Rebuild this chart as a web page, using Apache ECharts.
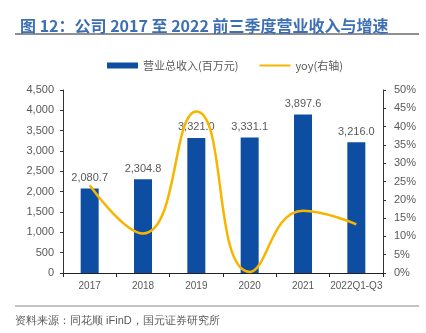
<!DOCTYPE html>
<html><head><meta charset="utf-8">
<script src="https://cdn.jsdelivr.net/npm/echarts@6/dist/echarts.min.js"></script>
<style>html,body{margin:0;padding:0;background:#fff}#c{width:426px;height:333px}</style>
</head><body><div id="c"></div>
<script>
var categories = ['2017', '2018', '2019', '2020', '2021', '2022Q1-Q3'];
var revenue = [2080.7, 2304.8, 3321.0, 3331.1, 3897.6, 3216.0];
var yoy = [24.0, 10.8, 44.1, 0.3, 17.0, 13.3];
var leftTicks = [0, 500, 1000, 1500, 2000, 2500, 3000, 3500, 4000, 4500];
var rightTicks = [0, 5, 10, 15, 20, 25, 30, 35, 40, 45, 50];

var chart = echarts.init(document.getElementById('c'), null, {renderer: 'canvas'});
var FONT = '"Liberation Sans", Arial, "Noto Sans CJK SC", sans-serif';
chart.setOption({
  animation: false,
  textStyle: {fontFamily: FONT},
  title: {
    text: '图 12：公司 2017 至 2022 前三季度营业收入与增速',
    left: 15, top: 13,
    textStyle: {fontSize: 16, fontWeight: 'bold', color: '#3d6fb4', fontFamily: '"Noto Sans CJK SC", sans-serif'}
  },
  graphic: [
    {type: 'line', shape: {x1: 15, y1: 34, x2: 419, y2: 34}, style: {stroke: '#222', lineWidth: 1.2}},
    {type: 'line', shape: {x1: 15, y1: 306, x2: 419, y2: 306}, style: {stroke: '#888', lineWidth: 1.2}},
    {type: 'text', left: 15, top: 315, style: {text: '资料来源：同花顺 iFinD，国元证券研究所', fontSize: 11, fill: '#595959', font: '11px "Noto Sans CJK SC", sans-serif'}}
  ],
  legend: {
    top: 55, left: 102,
    itemWidth: 31, itemHeight: 6, itemGap: 20,
    textStyle: {fontSize: 11, color: '#595959', fontFamily: '"Noto Sans CJK SC", sans-serif'},
    data: [
      {name: '营业总收入(百万元)', icon: 'rect'},
      {name: 'yoy(右轴)', itemStyle: {opacity: 0}}
    ]
  },
  grid: {left: 63, right: 43, top: 90, bottom: 60},
  xAxis: {
    type: 'category', data: categories,
    axisLine: {lineStyle: {color: '#222', width: 1}},
    axisTick: {show: true, alignWithLabel: false, length: 4, lineStyle: {color: '#222'}},
    axisLabel: {fontSize: 10, color: '#595959', margin: 8, interval: 0}
  },
  yAxis: [
    {
      type: 'value', min: 0, max: 4500, interval: 500,
      axisLine: {show: true, lineStyle: {color: '#333'}},
      axisTick: {show: true, length: 3, lineStyle: {color: '#333'}},
      splitLine: {show: false},
      axisLabel: {fontSize: 11, color: '#595959', margin: 9,
        formatter: function (v) { return v.toLocaleString('en-US'); }}
    },
    {
      type: 'value', min: 0, max: 50, interval: 5,
      axisLine: {show: true, lineStyle: {color: '#333'}},
      axisTick: {show: true, length: 3, lineStyle: {color: '#333'}},
      splitLine: {show: false},
      axisLabel: {fontSize: 11, color: '#595959', margin: 11, formatter: '{value}%'}
    }
  ],
  series: [
    {
      name: '营业总收入(百万元)', type: 'bar', data: revenue, barWidth: 18,
      itemStyle: {color: '#0d4ea2'},
      label: {show: true, position: 'top', distance: 5, fontSize: 11, color: '#595959',
        formatter: function (p) { return p.value.toLocaleString('en-US', {minimumFractionDigits: 1, maximumFractionDigits: 1}); }}
    },
    {
      name: 'yoy(右轴)', type: 'line', yAxisIndex: 1, data: yoy, smooth: 0.5,
      symbol: 'none', lineStyle: {color: '#f7b500', width: 2.5}, itemStyle: {color: '#f7b500'}
    }
  ]
});
</script></body></html>
